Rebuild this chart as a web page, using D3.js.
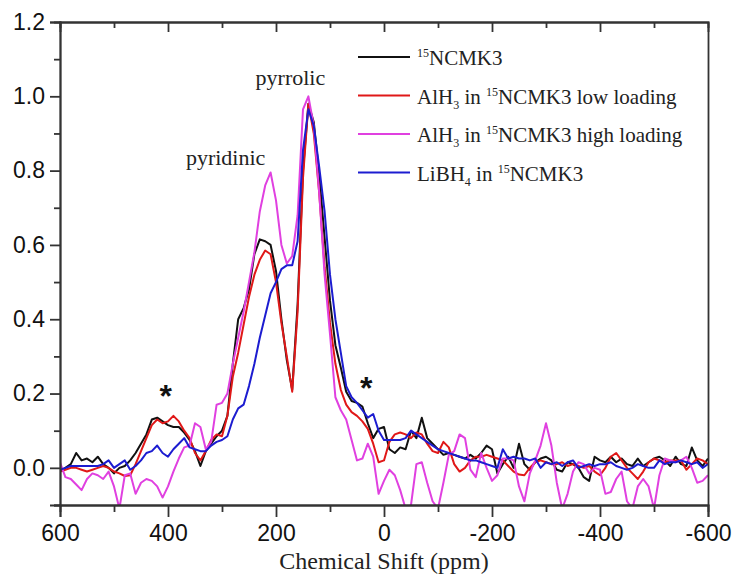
<!DOCTYPE html>
<html>
<head>
<meta charset="utf-8">
<script src="https://cdn.jsdelivr.net/npm/d3@7"></script>
<style>
  body { margin: 0; background: #fff; }
  .tick text { font-family: "Liberation Sans", Arial, sans-serif; font-size: 23px; fill: #111; }
  .serif { font-family: "Liberation Serif", "Times New Roman", serif; fill: #222; }
</style>
</head>
<body>
<div id="chart"></div>
<script>
// set parameters for SVG
var svgWidth = 733;
var svgHeight = 575;

var margin = { top: 22, right: 25, bottom: 70, left: 60 };
var width = svgWidth - margin.left - margin.right;
var height = svgHeight - margin.top - margin.bottom;

// chemical shift grid (ppm), 600 -> -600
var shift = [
  600, 590, 580, 570, 560, 550, 540, 530, 520, 510,
  500, 490, 480, 470, 460, 450, 440, 430, 420, 410,
  400, 390, 380, 370, 360, 350, 340, 330, 320, 310,
  300, 290, 280, 270, 260, 250, 240, 230, 220, 210,
  200, 190, 180, 170, 160, 150, 140, 130, 120, 110,
  100, 90, 80, 70, 60, 50, 40, 30, 20, 10,
  0, -10, -20, -30, -40, -50, -60, -70, -80, -90,
  -100, -110, -120, -130, -140, -150, -160, -170, -180, -190,
  -200, -210, -220, -230, -240, -250, -260, -270, -280, -290,
  -300, -310, -320, -330, -340, -350, -360, -370, -380, -390,
  -400, -410, -420, -430, -440, -450, -460, -470, -480, -490,
  -500, -510, -520, -530, -540, -550, -560, -570, -580, -590,
  -600
];

// 15NCMK3
var ncmk3 = [
  -0.01, 0.0, 0.01, 0.04, 0.02, 0.025, 0.015, 0.03, 0.01, 0.0,
  -0.015, 0.0, 0.005, 0.02, 0.04, 0.065, 0.09, 0.13, 0.135, 0.125,
  0.115, 0.11, 0.11, 0.095, 0.075, 0.045, 0.005, 0.045, 0.065, 0.085,
  0.10, 0.14, 0.28, 0.40, 0.43, 0.48, 0.575, 0.615, 0.61, 0.60,
  0.53, 0.40, 0.29, 0.21, 0.44, 0.80, 0.98, 0.93, 0.79, 0.62,
  0.45, 0.33, 0.27, 0.205, 0.18, 0.175, 0.165, 0.12, 0.08, 0.105,
  0.11, 0.05, 0.04, 0.055, 0.05, 0.10, 0.08, 0.135, 0.08, 0.065,
  0.05, 0.035, 0.04, 0.035, 0.03, 0.025, 0.035, 0.025, 0.04, 0.06,
  0.05, -0.015, 0.01, 0.03, 0.0, 0.065, 0.01, -0.005, 0.015, 0.025,
  0.03, 0.02, -0.005, -0.01, 0.015, 0.01, 0.0, -0.025, -0.035, 0.03,
  0.02, 0.015, 0.03, 0.015, 0.025, 0.01, 0.005, 0.025, 0.005, 0.015,
  0.025, 0.03, 0.02, 0.005, 0.03, 0.01, 0.005, 0.055, 0.02, 0.005,
  0.025
];

// AlH3 in 15NCMK3 low loading
var alLow = [
  -0.01, -0.005, 0.0, 0.0, -0.005, -0.01, -0.005, 0.0, 0.005, 0.0,
  -0.01, -0.015, -0.022, -0.02, 0.01, 0.045, 0.08, 0.115, 0.13, 0.12,
  0.125, 0.14, 0.125, 0.10, 0.08, 0.04, 0.02, 0.045, 0.075, 0.09,
  0.085, 0.14, 0.245, 0.31, 0.385, 0.46, 0.52, 0.56, 0.585, 0.575,
  0.50, 0.39, 0.30, 0.205, 0.42, 0.78, 0.98, 0.90, 0.74, 0.54,
  0.39, 0.28, 0.21, 0.17, 0.15, 0.14, 0.125, 0.105, 0.065, 0.015,
  0.02, 0.07, 0.09, 0.095, 0.09, 0.08, 0.095, 0.09, 0.065, 0.045,
  0.04, 0.07, 0.055, 0.01, -0.01, 0.0, 0.02, 0.03, 0.03, 0.035,
  0.03, 0.025, 0.02, 0.005, -0.01, -0.018, -0.02, 0.0, 0.015, 0.02,
  0.015, 0.01, 0.01, 0.015, 0.005, 0.01, 0.005, 0.0, 0.005, -0.01,
  -0.02, 0.0, 0.03, 0.04, 0.02, 0.0, -0.015, -0.03, -0.01, 0.015,
  0.025, 0.02, 0.015, 0.02, 0.02, 0.02, -0.005, 0.01, 0.025, 0.02,
  0.01
];

// AlH3 in 15NCMK3 high loading
var alHigh = [
  0.015, -0.025, -0.03, -0.045, -0.06, -0.03, -0.015, -0.02, -0.03, -0.01,
  -0.05, -0.11, -0.02, -0.015, -0.07, -0.04, -0.03, -0.035, -0.05, -0.08,
  -0.05, -0.01, 0.025, 0.055, 0.06, 0.12, 0.11, 0.05, 0.07, 0.17,
  0.175, 0.20, 0.28, 0.35, 0.42, 0.50, 0.58, 0.69, 0.76, 0.795,
  0.72, 0.60, 0.55, 0.57, 0.68, 0.965, 1.0, 0.92, 0.74, 0.52,
  0.36, 0.19, 0.155, 0.13, 0.075, 0.02, 0.025, 0.065, 0.03, -0.07,
  -0.035, -0.005, -0.02, -0.06, -0.11, -0.1, 0.01, 0.015, -0.04, -0.09,
  -0.11, -0.04, 0.035, 0.045, 0.09, 0.08, -0.005, -0.025, 0.04, 0.0,
  -0.035, -0.02, 0.025, 0.025, 0.02, -0.05, -0.09, -0.015, 0.02, 0.06,
  0.12, 0.06, -0.04, -0.11, -0.07, -0.01, 0.015, 0.01, -0.015, 0.0,
  -0.005, -0.07, -0.065, -0.03, -0.01, -0.09, -0.11, -0.05, -0.03, -0.05,
  -0.11, -0.02, 0.025, 0.02, 0.015, 0.02, 0.03, 0.0, -0.04, -0.035,
  -0.02
];

// LiBH4 in 15NCMK3
var libh4 = [
  -0.005, 0.0, 0.005, 0.005, 0.005, 0.005, 0.005, 0.005, 0.01, 0.02,
  0.0, 0.01, 0.02, -0.005, 0.005, 0.02, 0.04, 0.045, 0.06, 0.04,
  0.03, 0.05, 0.065, 0.08, 0.055, 0.05, 0.045, 0.045, 0.06, 0.07,
  0.075, 0.085, 0.13, 0.16, 0.17, 0.22, 0.28, 0.35, 0.41, 0.47,
  0.50, 0.535, 0.545, 0.545, 0.61, 0.855, 0.965, 0.92, 0.81, 0.69,
  0.52, 0.40, 0.31, 0.22, 0.19, 0.175, 0.155, 0.135, 0.145, 0.10,
  0.075, 0.075, 0.075, 0.075, 0.08, 0.10, 0.09, 0.08, 0.07, 0.06,
  0.05, 0.045, 0.04, 0.035, 0.03, 0.025, 0.02, 0.02, 0.015, 0.01,
  0.005, 0.0, 0.05, 0.025, 0.03, 0.025, 0.025, 0.02, 0.025, 0.0,
  0.015, 0.01, 0.015, 0.005, 0.015, 0.02, 0.0, 0.005, 0.01, 0.005,
  0.01, 0.01, 0.015, 0.005, 0.0, -0.005, 0.0, 0.01, 0.005, 0.0,
  0.0, 0.02, 0.01, 0.015, 0.015, 0.02, 0.015, 0.01, 0.015, 0.0,
  0.01
];

var seriesColors = ["#111111", "#e01818", "#e040e0", "#1c1cd0"];
var seriesValues = [ncmk3, alLow, alHigh, libh4];

// legend labels: [text, "sub" | "sup" | ""]
var legendLabels = [
  [["15", "sup"], ["NCMK3", ""]],
  [["AlH", ""], ["3", "sub"], [" in ", ""], ["15", "sup"], ["NCMK3 low loading", ""]],
  [["AlH", ""], ["3", "sub"], [" in ", ""], ["15", "sup"], ["NCMK3 high loading", ""]],
  [["LiBH", ""], ["4", "sub"], [" in ", ""], ["15", "sup"], ["NCMK3", ""]]
];

var xMajor = [600, 400, 200, 0, -200, -400, -600];
var xMinor = [500, 300, 100, -100, -300, -500];
var yMajor = [0.0, 0.2, 0.4, 0.6, 0.8, 1.0, 1.2];
var yMinor = [-0.1, 0.1, 0.3, 0.5, 0.7, 0.9, 1.1];

// sideband asterisks [ppm, intensity]
var starMarks = [[404, 0.165], [33, 0.185]];

var svg = d3.select("#chart")
  .append("svg")
  .attr("width", svgWidth)
  .attr("height", svgHeight);

var chartGroup = svg.append("g")
  .attr("transform", `translate(${margin.left}, ${margin.top})`);

var xLinearScale = d3.scaleLinear().domain([600, -600]).range([0, width]);
var yLinearScale = d3.scaleLinear().domain([-0.1, 1.2]).range([height, 0]);

// clip so the noisy trace stays inside the frame
chartGroup.append("clipPath")
  .attr("id", "plotClip")
  .append("rect")
  .attr("width", width)
  .attr("height", height);

var line = d3.line()
  .x(d => xLinearScale(d[0]))
  .y(d => yLinearScale(d[1]));

var lineGroup = chartGroup.append("g").attr("clip-path", "url(#plotClip)");
seriesValues.forEach(function(vals, i) {
  lineGroup.append("path")
    .datum(shift.map((s, j) => [s, vals[j]]))
    .attr("d", line)
    .attr("fill", "none")
    .attr("stroke", seriesColors[i])
    .attr("stroke-width", 2)
    .attr("stroke-linejoin", "round");
});

// axes
function styleAxis(g) {
  g.select(".domain").attr("stroke", "#333").attr("stroke-width", 1.8);
  g.selectAll(".tick line").attr("stroke", "#333").attr("stroke-width", 1.8);
}

chartGroup.append("g")
  .attr("transform", `translate(0, ${height})`)
  .call(d3.axisBottom(xLinearScale).tickValues(xMinor).tickSize(7).tickFormat(""))
  .call(styleAxis);

// plain hyphen for negatives, like the original
chartGroup.append("g")
  .attr("transform", `translate(0, ${height})`)
  .call(d3.axisBottom(xLinearScale).tickValues(xMajor).tickSize(12).tickPadding(8).tickFormat(d => String(d)))
  .call(styleAxis);

chartGroup.append("g")
  .call(d3.axisLeft(yLinearScale).tickValues(yMinor).tickSize(6).tickFormat(""))
  .call(styleAxis);

chartGroup.append("g")
  .call(d3.axisLeft(yLinearScale).tickValues(yMajor).tickSize(10).tickPadding(5).tickFormat(d3.format(".1f")))
  .call(styleAxis);

// top axis, ticks pointing inward
chartGroup.append("g")
  .call(d3.axisTop(xLinearScale).tickValues(xMinor).tickSize(-6).tickFormat(""))
  .call(styleAxis);
chartGroup.append("g")
  .call(d3.axisTop(xLinearScale).tickValues(xMajor.slice(1, -1)).tickSize(-10).tickFormat(""))
  .call(styleAxis);

// right frame line
chartGroup.append("g")
  .attr("transform", `translate(${width}, 0)`)
  .call(d3.axisRight(yLinearScale).tickValues([]).tickSize(0))
  .call(styleAxis);

// x axis title
chartGroup.append("text")
  .attr("class", "serif")
  .attr("x", width / 2)
  .attr("y", height + 64)
  .attr("text-anchor", "middle")
  .attr("font-size", 24)
  .text("Chemical Shift (ppm)");

// peak annotations
chartGroup.append("text")
  .attr("class", "serif")
  .attr("x", xLinearScale(210) - 45)
  .attr("y", yLinearScale(0.815))
  .attr("font-size", 22)
  .attr("text-anchor", "middle")
  .text("pyridinic");

chartGroup.append("text")
  .attr("class", "serif")
  .attr("x", xLinearScale(140) - 18)
  .attr("y", yLinearScale(1.03))
  .attr("font-size", 22)
  .attr("text-anchor", "middle")
  .text("pyrrolic");

// spinning sideband markers
starMarks.forEach(function(p) {
  chartGroup.append("text")
    .attr("x", xLinearScale(p[0]))
    .attr("y", yLinearScale(p[1]))
    .attr("font-family", "Liberation Sans, Arial, sans-serif")
    .attr("font-size", 32)
    .attr("font-weight", "bold")
    .attr("text-anchor", "middle")
    .attr("fill", "#111")
    .text("*");
});

// legend
var legend = svg.append("g").attr("transform", "translate(358, 57)");
legendLabels.forEach(function(parts, i) {
  var row = legend.append("g").attr("transform", `translate(0, ${i * 38.5})`);
  row.append("line")
    .attr("x1", 0).attr("x2", 52)
    .attr("y1", 0).attr("y2", 0)
    .attr("stroke", seriesColors[i])
    .attr("stroke-width", 2);
  var t = row.append("text")
    .attr("class", "serif")
    .attr("x", 59)
    .attr("y", 8)
    .attr("font-size", 21);
  var base = 0;
  parts.forEach(function(p) {
    var target = p[1] === "sup" ? -8 : p[1] === "sub" ? 5 : 0;
    var span = t.append("tspan").text(p[0]).attr("dy", target - base);
    if (p[1]) span.attr("font-size", 12);
    base = target;
  });
});
</script>
</body>
</html>
